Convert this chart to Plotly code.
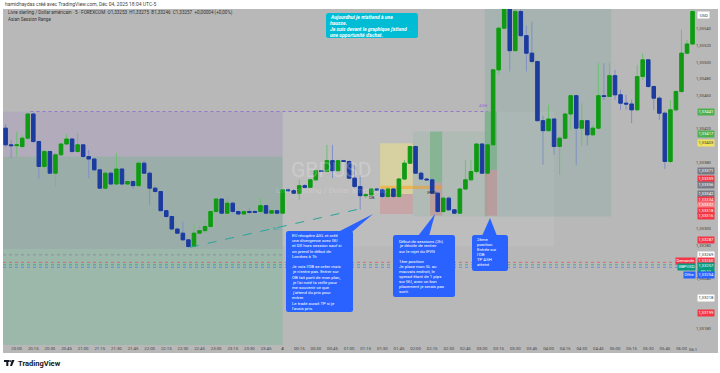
import plotly.graph_objects as go
import pandas as pd

# ---------------- data (5-min GBPUSD candles) ----------------
times = pd.date_range("2025-12-03 19:50", periods=125, freq="5min")

open_ = [1.33421,1.33401,1.33400,1.33399,1.33409,1.33438,1.33405,1.33375,1.33393,1.33367,
         1.33389,1.33402,1.33408,1.33393,1.33401,1.33387,1.33384,1.33371,1.33349,1.33367,
         1.33354,1.33372,1.33354,1.33357,1.33352,1.33379,1.33367,1.33349,1.33345,1.33322,
         1.33315,1.33300,1.33295,1.33287,1.33279,1.33295,1.33298,1.33303,1.33321,1.33336,
         1.33319,1.33331,1.33321,1.33318,1.33321,1.33321,1.33321,1.33328,1.33319,1.33322,
         1.33319,1.33347,1.33346,1.33343,1.33352,1.33350,1.33359,1.33370,1.33369,1.33382,
         1.33370,1.33382,1.33381,1.33361,1.33351,1.33340,1.33341,1.33348,1.33347,1.33339,
         1.33348,1.33339,1.33360,1.33379,1.33399,1.33367,1.33360,1.33359,1.33343,1.33321,
         1.33337,1.33323,1.33319,1.33348,1.33359,1.33369,1.33402,1.33367,1.33401,1.33491,
         1.33541,1.33573,1.33514,1.33561,1.33532,1.33511,1.33501,1.33430,1.33418,1.33432,
         1.33399,1.33409,1.33438,1.33460,1.33421,1.33430,1.33413,1.33421,1.33460,1.33459,
         1.33484,1.33461,1.33451,1.33450,1.33443,1.33483,1.33503,1.33471,1.33457,1.33439,
         1.33381,1.33443,1.33465,1.33511,1.33522]
high = [1.33426,1.33407,1.33417,1.33413,1.33439,1.33439,1.33406,1.33395,1.33394,1.33391,
        1.33403,1.33414,1.33409,1.33415,1.33402,1.33395,1.33385,1.33372,1.33369,1.33369,
        1.33391,1.33373,1.33358,1.33358,1.33381,1.33382,1.33369,1.33351,1.33346,1.33323,
        1.33316,1.33301,1.33309,1.33288,1.33307,1.33304,1.33310,1.33322,1.33337,1.33337,
        1.33337,1.33333,1.33322,1.33322,1.33325,1.33323,1.33337,1.33329,1.33323,1.33323,
        1.33348,1.33349,1.33348,1.33359,1.33354,1.33360,1.33371,1.33371,1.33401,1.33401,
        1.33383,1.33383,1.33383,1.33377,1.33365,1.33343,1.33349,1.33349,1.33349,1.33349,
        1.33349,1.33361,1.33383,1.33400,1.33400,1.33369,1.33361,1.33361,1.33345,1.33339,
        1.33339,1.33324,1.33349,1.33383,1.33383,1.33403,1.33403,1.33403,1.33492,1.33543,
        1.33581,1.33579,1.33569,1.33569,1.33544,1.33549,1.33502,1.33436,1.33449,1.33433,
        1.33411,1.33439,1.33461,1.33461,1.33451,1.33431,1.33425,1.33499,1.33499,1.33499,
        1.33491,1.33467,1.33461,1.33455,1.33497,1.33511,1.33504,1.33472,1.33459,1.33441,
        1.33455,1.33467,1.33539,1.33527,1.33563]
low = [1.33399,1.33385,1.33387,1.33397,1.33407,1.33403,1.33360,1.33373,1.33366,1.33351,
       1.33388,1.33401,1.33391,1.33391,1.33385,1.33361,1.33370,1.33348,1.33348,1.33353,
       1.33353,1.33353,1.33353,1.33348,1.33351,1.33366,1.33329,1.33343,1.33321,1.33313,
       1.33299,1.33294,1.33286,1.33277,1.33277,1.33294,1.33295,1.33301,1.33319,1.33318,
       1.33318,1.33319,1.33317,1.33317,1.33318,1.33319,1.33319,1.33318,1.33318,1.33318,
       1.33318,1.33345,1.33342,1.33335,1.33349,1.33349,1.33358,1.33369,1.33369,1.33361,
       1.33369,1.33381,1.33360,1.33349,1.33323,1.33337,1.33340,1.33346,1.33337,1.33337,
       1.33337,1.33337,1.33359,1.33378,1.33366,1.33359,1.33358,1.33342,1.33319,1.33319,
       1.33322,1.33318,1.33318,1.33347,1.33358,1.33366,1.33366,1.33366,1.33400,1.33485,
       1.33540,1.33489,1.33513,1.33531,1.33489,1.33499,1.33429,1.33377,1.33417,1.33389,
       1.33365,1.33408,1.33419,1.33377,1.33400,1.33400,1.33412,1.33420,1.33455,1.33459,
       1.33455,1.33443,1.33443,1.33427,1.33442,1.33479,1.33469,1.33443,1.33431,1.33372,
       1.33379,1.33441,1.33463,1.33510,1.33521]
close = [1.33401,1.33400,1.33401,1.33409,1.33438,1.33405,1.33375,1.33393,1.33367,1.33389,
         1.33402,1.33408,1.33393,1.33401,1.33387,1.33384,1.33371,1.33349,1.33367,1.33354,
         1.33372,1.33354,1.33357,1.33352,1.33379,1.33367,1.33349,1.33345,1.33322,1.33315,
         1.33300,1.33295,1.33287,1.33279,1.33295,1.33298,1.33303,1.33321,1.33336,1.33319,
         1.33331,1.33321,1.33318,1.33321,1.33320,1.33320,1.33328,1.33319,1.33322,1.33319,
         1.33347,1.33346,1.33343,1.33352,1.33350,1.33359,1.33370,1.33369,1.33382,1.33370,
         1.33382,1.33381,1.33361,1.33351,1.33340,1.33341,1.33348,1.33347,1.33339,1.33348,
         1.33339,1.33360,1.33379,1.33399,1.33367,1.33360,1.33359,1.33343,1.33321,1.33337,
         1.33323,1.33319,1.33348,1.33359,1.33369,1.33402,1.33367,1.33401,1.33491,1.33541,
         1.33573,1.33514,1.33561,1.33532,1.33511,1.33501,1.33430,1.33418,1.33432,1.33399,
         1.33409,1.33438,1.33460,1.33421,1.33430,1.33413,1.33421,1.33460,1.33459,1.33484,
         1.33461,1.33451,1.33450,1.33443,1.33483,1.33503,1.33471,1.33457,1.33439,1.33381,
         1.33443,1.33465,1.33511,1.33522,1.33561]

# plain price-scale ticks that are visible (the others are hidden behind coloured tags)
price_ticks = [1.33180, 1.33240, 1.33280, 1.33300, 1.33380, 1.33420,
               1.33460, 1.33480, 1.33500, 1.33520, 1.33540]
time_tick_labels = ["20:00","20:15","20:30","20:45","21:00","21:15","21:30","21:45",
                    "22:00","22:15","22:30","22:45","23:00","23:15","23:30","23:45",
                    "<b>4</b>","00:15","00:30","00:45","01:00","01:15","01:30","01:45",
                    "02:00","02:15","02:30","02:45","03:00","03:15","03:30","03:45",
                    "04:00","04:15","04:30","04:45","05:00","05:15","05:30","05:45","06:00"]

# right-scale coloured labels: (price position, text, background, text colour)
price_labels = [
    (1.33441, "1,33441", "#4caf50", "white"),
    (1.33414, "1,33417", "#4caf50", "white"),
    (1.33403, "1,33403", "#f2e35c", "#333333"),
    (1.33370, "1,33371", "#787b86", "white"),
    (1.33360, "1,33359", "#f23645", "white"),
    (1.33353, "1,33356", "#787b86", "white"),
    (1.33342, "1,33342", "#787b86", "white"),
    (1.33335, "1,33334", "#f23645", "white"),
    (1.33329, "1,33332", "#f77c80", "white"),
    (1.33322, "1,33318", "#f23645", "white"),
    (1.33316, "1,33316", "#f23645", "white"),
    (1.33287, "1,33287", "#f23645", "white"),
    (1.33269, "1,33269", "#ffffff", "#333333"),
    (1.33262, "1,33260", "#f23645", "white"),
    (1.33253, "1,33257<br>00:11", "#089981", "white"),
    (1.33245, "1,33254", "#2962ff", "white"),
    (1.33217, "1,33218", "#ffffff", "#333333"),
    (1.33199, "1,33199", "#f23645", "white"),
]

GREEN, BLUE = "#119a14", "#1b3c9e"
GREEN_W, BLUE_W = "#6fbf72", "#8090c4"
BG = "#b8b8b8"
FONT = "Roboto"

body_hi = [max(o, c) for o, c in zip(open_, close)]
body_lo = [min(o, c) for o, c in zip(open_, close)]

base = pd.Timestamp("2025-12-03 20:00")
def T(i):
    return (base + pd.Timedelta(minutes=5 * i)).strftime("%Y-%m-%d %H:%M:%S")

# pixel helpers for layout decorations (plot area: x 3..695, y 9..345)
def PX(x):
    return (x - 3) / 692.0
def PY(y):
    return (345 - y) / 336.0

fig = go.Figure()
fig.add_trace(go.Candlestick(x=times, open=open_, high=high, low=low, close=close,
                             increasing=dict(line=dict(color=GREEN_W, width=1), fillcolor=GREEN_W),
                             decreasing=dict(line=dict(color=BLUE_W, width=1), fillcolor=BLUE_W),
                             hoverinfo="skip"))
fig.add_trace(go.Candlestick(x=times, open=open_, high=body_hi, low=body_lo, close=close,
                             increasing=dict(line=dict(color=GREEN, width=1), fillcolor=GREEN),
                             decreasing=dict(line=dict(color=BLUE, width=1), fillcolor=BLUE),
                             hoverinfo="skip"))

YTOP, YBOT = 1.33564, 1.331608
XL, XR = -2.47, 122.44
shapes = []
# grey chart frame incl. price scale and time scale
shapes.append(dict(type="rect", xref="paper", yref="paper", x0=PX(3), x1=PX(718), y0=PY(353), y1=PY(9),
                   fillcolor=BG, line=dict(width=0), layer="below"))

def rect(i0, i1, p0, p1, color):
    shapes.append(dict(type="rect", xref="x", yref="y", x0=T(i0), x1=T(i1), y0=p0, y1=p1,
                       fillcolor=color, line=dict(width=0), layer="below"))

# Asian session range
rect(XL, 48, 1.33441, 1.33387, "rgba(150,120,205,0.20)")
rect(XL, 48, 1.33387, 1.33276, "rgba(40,130,110,0.20)")
rect(XL, 48, 1.33276, YBOT, "rgba(90,185,140,0.30)")
# later zones
rect(48, 97, 1.33441, 1.33279, "rgba(255,255,255,0.07)")
rect(84.5, 107.3, YTOP, 1.33315, "rgba(60,150,125,0.14)")
rect(71.5, 84.9, 1.33417, 1.33315, "rgba(110,180,150,0.16)")
rect(65.6, 71.5, 1.33403, 1.33342, "rgba(255,238,120,0.40)")
rect(65.6, 71.5, 1.33342, 1.33318, "rgba(242,54,69,0.18)")
rect(74.6, 76.8, 1.33417, 1.33356, "rgba(40,170,70,0.30)")
rect(74.6, 76.8, 1.33356, 1.33316, "rgba(242,54,69,0.20)")
rect(84.5, 86.7, 1.33441, 1.33371, "rgba(40,170,70,0.30)")
rect(84.5, 86.7, 1.33371, 1.33316, "rgba(242,54,69,0.20)")
rect(65.6, 76.8, 1.33352, 1.33348, "rgba(255,152,0,0.45)")

def hline(i0, i1, p, color, dash):
    shapes.append(dict(type="line", xref="x", yref="y", x0=T(i0), x1=T(i1), y0=p, y1=p,
                       line=dict(color=color, width=1, dash=dash), layer="below"))

hline(2.5, 85, 1.33441, "#9575cd", "dot")
hline(XL, 48, 1.33269, "#8f8aa6", "dot")
hline(XL, XR, 1.33260, "rgba(242,54,69,0.6)", "dot")
hline(XL, XR, 1.33257, "rgba(8,153,129,0.6)", "dot")
hline(XL, XR, 1.33254, "rgba(41,98,255,0.5)", "dot")

# EU divergence dashed line
fig.add_trace(go.Scatter(x=[T(31.3), T(62.5)], y=[1.33278, 1.33325], mode="lines",
                         line=dict(color="#26a69a", width=1, dash="dash"), hoverinfo="skip"))

annotations = []
def txt(x, y, s, size=5, color="#333333", xanchor="left", yanchor="middle", xref="paper", yref="paper", **kw):
    annotations.append(dict(x=x, y=y, xref=xref, yref=yref, text=s, showarrow=False,
                            xanchor=xanchor, yanchor=yanchor,
                            font=dict(family=FONT, size=size, color=color, **kw.pop("fontkw", {})), **kw))

# watermark
txt(PX(331), PY(170), "GBPUSD", size=21, color="rgba(255,255,255,0.22)", xanchor="center")
txt(PX(331), PY(190), "Livre sterling / Dollar américain", size=8, color="rgba(255,255,255,0.22)", xanchor="center")

# headers
txt(PX(3), PY(4.5), "hamidhaydas créé avec TradingView.com, Déc 04, 2025 18:04 UTC-5", size=5, color="#444444")
txt(PX(6), PY(13), "Livre sterling / Dollar américain · 5 · FOREXCOM  O1,33253  H1,33275  B1,33246  C1,33257  +0,00004 (+0,00%)",
    size=4.6, color="#333333")
txt(PX(6), PY(19.5), "Asian Session Range", size=4.6, color="#333333")

# chart labels
txt(T(84.2), 1.33448, "ASH", size=4.3, color="#8e6ccf", xref="x", yref="y", xanchor="center")
txt(T(64.2), 1.33338, "DB", size=4.3, color="#333333", xref="x", yref="y", xanchor="center")
txt(T(74.8), 1.33344, "IFVG", size=4.3, color="#333333", xref="x", yref="y", xanchor="center")
txt(T(46.8), 1.33301, "EU", size=4.3, color="#26a69a", xref="x", yref="y", xanchor="center")

# price-scale coloured labels
for p, s, bg, fc in price_labels:
    annotations.append(dict(x=PX(697), y=p, xref="paper", yref="y", text=s, showarrow=False,
                            xanchor="left", yanchor="middle", bgcolor=bg, borderpad=0.4,
                            font=dict(family=FONT, size=4.2, color=fc)))
annotations.append(dict(x=PX(697), y=PY(15), xref="paper", yref="paper", text=" USD ", showarrow=False,
                        xanchor="left", yanchor="middle", bgcolor="#ffffff", borderpad=0.6,
                        font=dict(family=FONT, size=4.3, color="#333333")))
# bid / last / ask tags
for p, s, bg in [(1.33262, "Demande", "#f23645"), (1.33255, "GBPUSD", "#089981"), (1.33245, "Offre", "#2962ff")]:
    annotations.append(dict(x=PX(696), y=p, xref="paper", yref="y", text=s, showarrow=False,
                            xanchor="right", yanchor="middle", bgcolor=bg, borderpad=0.4,
                            font=dict(family=FONT, size=4.2, color="white")))
txt(PX(693), PY(349.5), "06:1", size=4.3, color="#444444", xanchor="center")

# callouts
def rrect_path(x0, y0, x1, y1, r):
    rx, ry = r / 692.0, r / 336.0
    X0, X1, Y0, Y1 = PX(x0), PX(x1), PY(y1), PY(y0)
    return (f"M{X0+rx},{Y1} L{X1-rx},{Y1} Q{X1},{Y1} {X1},{Y1-ry} L{X1},{Y0+ry} Q{X1},{Y0} {X1-rx},{Y0} "
            f"L{X0+rx},{Y0} Q{X0},{Y0} {X0},{Y0+ry} L{X0},{Y1-ry} Q{X0},{Y1} {X0+rx},{Y1} Z")

def callout(box, lines, x_text, y_first, step, color, size, pointer=None, bold_italic=False):
    x0, y0, x1, y1 = box
    shapes.append(dict(type="path", xref="paper", yref="paper", path=rrect_path(x0, y0, x1, y1, 2.5),
                       fillcolor=color, line=dict(width=0), layer="above"))
    if pointer:
        (bx0, by), (bx1, _), (tx, ty) = pointer
        shapes.append(dict(type="path", xref="paper", yref="paper",
                           path=f"M{PX(bx0)},{PY(by)} L{PX(tx)},{PY(ty)} L{PX(bx1)},{PY(by)} Z",
                           fillcolor=color, line=dict(width=0), layer="above"))
    for k, s in enumerate(lines):
        if not s:
            continue
        fk = dict(weight="bold", style="italic") if bold_italic else {}
        annotations.append(dict(x=PX(x_text), y=PY(y_first + k * step), xref="paper", yref="paper",
                                text=s, showarrow=False, xanchor="left", yanchor="middle",
                                font=dict(family=FONT, size=size, color="white", **fk)))

callout((326, 13, 418, 38),
        ["Aujourdhui je m'attend à une", "hausse.", "Je suis devant le graphique j'attend",
         "une opportunité d'achat."], 328, 17.2, 5.8, "#00bcd4", 5.0, bold_italic=True)
callout((286, 231, 353, 312),
        ["EU récupère ASL et créé", "une divergence avec GU", "et DX hors session sauf si",
         "on prend le début de", "Londres à 1h", "", "Je vois l'OB se créer mais",
         "je n'entre pas. Entrer sur", "OB fait parti de mon plan,", "je l'ai noté la veille pour",
         "me souvenir ce que", "j'attend du prix pour", "entrer.", "Le trade aurait TP si je",
         "l'avais pris."], 289.5, 235.5, 5.2, "#2962ff", 4.3,
        pointer=((338, 232), (352, 232), (373, 214)))
callout((393, 235, 455, 297),
        ["Début de sessions (2h)", "je décide de rentrer", "sur le rejet du IFVG", "",
         "1ère position", "Je place mon SL au", "mauvais endroit, le", "spread étant de 1 pips",
         "sur GU, avec un bon", "placement je serais pas", "sorti."], 396.5, 241, 5.0, "#2962ff", 4.3,
        pointer=((418, 236), (429, 236), (435, 214)))
callout((472, 235, 508, 271),
        ["2ème", "position", "Entrée sur", "l'OB", "TP ASH", "atteint"], 475, 239.5, 5.0, "#2962ff", 4.3,
        pointer=((482, 236), (497, 236), (490, 218)))

# TradingView logo (bottom-left)
shapes.append(dict(type="rect", xref="paper", yref="paper", x0=PX(4), x1=PX(9.5), y0=PY(362), y1=PY(360),
                   fillcolor="#131722", line=dict(width=0)))
shapes.append(dict(type="rect", xref="paper", yref="paper", x0=PX(6.3), x1=PX(8.3), y0=PY(366), y1=PY(360),
                   fillcolor="#131722", line=dict(width=0)))
shapes.append(dict(type="circle", xref="paper", yref="paper", x0=PX(9.6), x1=PX(11.4), y0=PY(362), y1=PY(360.2),
                   fillcolor="#131722", line=dict(width=0)))
shapes.append(dict(type="path", xref="paper", yref="paper",
                   path=f"M{PX(11.8)},{PY(360)} L{PX(14.5)},{PY(360)} L{PX(12)},{PY(366)} L{PX(10)},{PY(366)} Z",
                   fillcolor="#131722", line=dict(width=0)))
txt(PX(16), PY(363), "TradingView", size=7.5, color="#131722", fontkw=dict(weight="bold"))

tick_times = [T(3 * k) for k in range(len(time_tick_labels))]

fig.update_layout(
    width=720, height=373, margin=dict(l=3, r=25, t=9, b=28),
    paper_bgcolor="white", plot_bgcolor=BG, showlegend=False,
    boxgap=0.3, boxgroupgap=0.1,
    shapes=shapes, annotations=annotations,
    font=dict(family=FONT, color="#333333"),
    xaxis=dict(range=[T(XL), T(XR)], rangeslider=dict(visible=False), showgrid=False, zeroline=False,
               tickvals=tick_times, ticktext=time_tick_labels, tickfont=dict(size=4.3, color="#444444"),
               ticks="", ticklen=0, showline=False, fixedrange=True),
    yaxis=dict(range=[YBOT, YTOP], side="right", showgrid=False, zeroline=False,
               tickvals=price_ticks, ticktext=[f"{v:.5f}".replace(".", ",") for v in price_ticks],
               tickfont=dict(size=4.2, color="#444444"), ticks="", showline=False, fixedrange=True),
)

fig.write_html("out.html")
